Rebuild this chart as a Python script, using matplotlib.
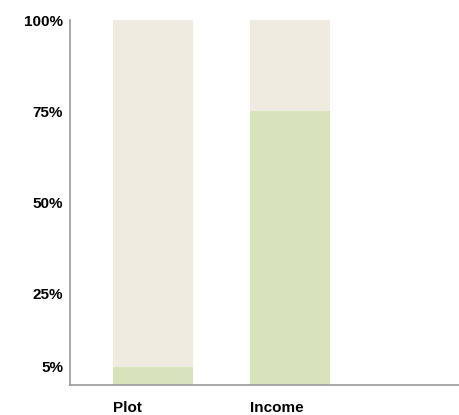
import matplotlib
matplotlib.use("Agg")
import matplotlib.pyplot as plt

# Share of respondents (percent)
categories = ["Plot", "Income"]
share_yes = [5, 75]
share_total = [100, 100]
tick_values = [5, 25, 50, 75, 100]
tick_labels = ["5%", "25%", "50%", "75%", "100%"]

BEIGE = "#EFEBE0"
GREEN = "#D9E3BB"

plt.rcParams["font.family"] = ["Liberation Sans", "DejaVu Sans"]

fig = plt.figure(figsize=(4.59, 4.15), dpi=100)
ax = fig.add_axes([70 / 459, 30 / 415, 1 - 70 / 459, 365 / 415])

x = list(range(len(categories)))
width = 0.584
ax.bar(x, share_total, width=width, color=BEIGE, zorder=1)
ax.bar(x, share_yes, width=width, color=GREEN, zorder=2)

ax.set_xlim(-0.606, 2.234)
ax.set_ylim(0, 100)

ax.set_yticks(tick_values)
ax.set_yticklabels(tick_labels, fontsize=11, fontweight="bold")
ax.tick_params(axis="y", length=0, pad=5)

ax.set_xticks([])
for xi, name in zip(x, categories):
    ax.text(xi - width / 2, -4.3, name, ha="left", va="top",
            fontsize=11, fontweight="bold", transform=ax.transData)

for side in ["top", "right"]:
    ax.spines[side].set_visible(False)
for side in ["left", "bottom"]:
    ax.spines[side].set_color("#9a9a9a")
    ax.spines[side].set_linewidth(1.2)

fig.savefig("out.png", dpi=100)
